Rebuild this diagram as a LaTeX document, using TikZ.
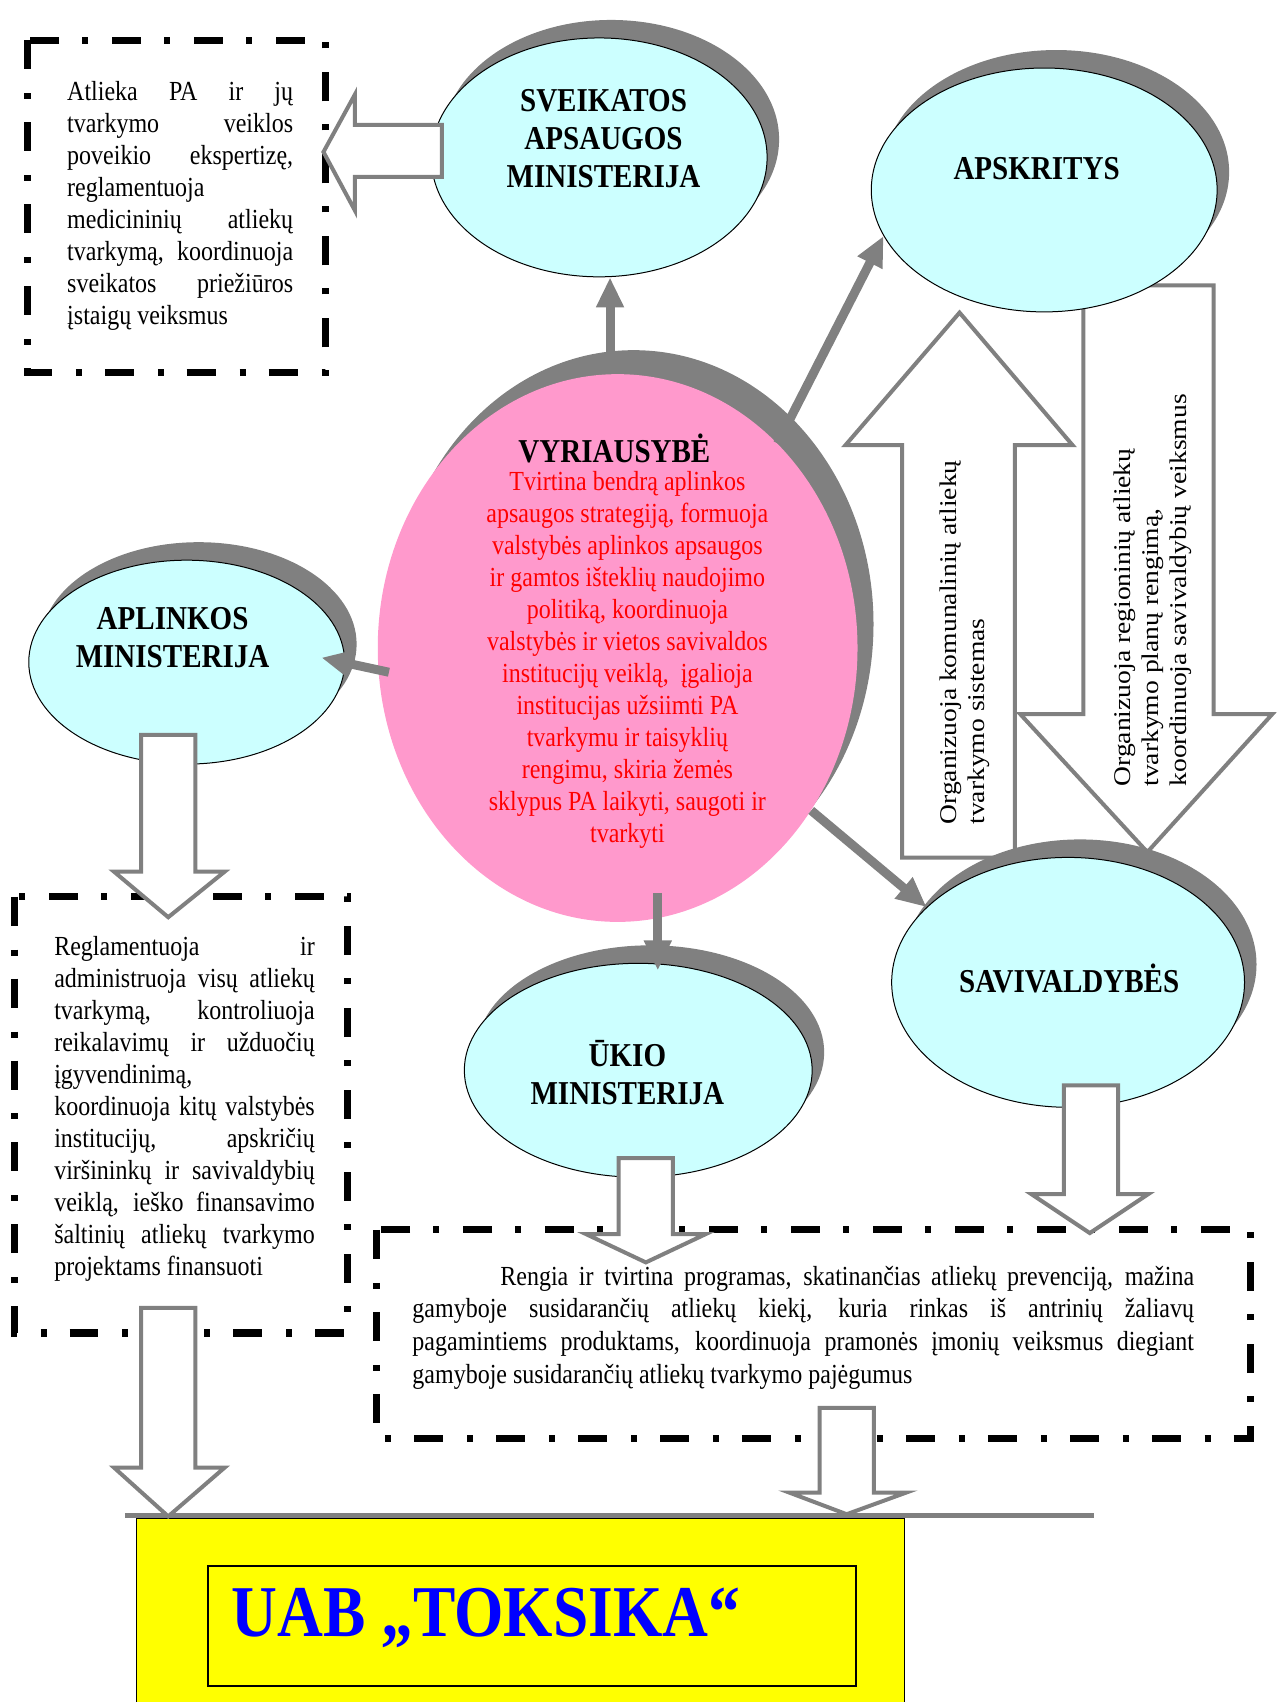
\documentclass[tikz,border=0pt]{standalone}
\usepackage{fontspec}
\setmainfont{Liberation Serif}
\newfontfamily\tallfont[FakeStretch=0.87]{Liberation Serif}
\newfontfamily\widefont[FakeStretch=1.15]{Liberation Serif}
\usepackage{xcolor}
\usetikzlibrary{shapes.geometric,arrows.meta,shadows,calc}
\definecolor{lightcyan}{HTML}{CCFFFF}
\definecolor{govpink}{HTML}{FF99CC}
\definecolor{shadegray}{HTML}{808080}
\definecolor{boxyellow}{HTML}{FFFF00}
\definecolor{textblue}{HTML}{0000FF}
\tikzset{
    minis/.style={ellipse, draw=black, line width=0.5pt, fill=lightcyan, inner sep=0pt,
        drop shadow={shadow xshift=6pt, shadow yshift=9pt, draw=none, fill=shadegray, opacity=1}},
    govnode/.style={ellipse, draw=none, fill=govpink, inner sep=0pt,
        drop shadow={shadow xshift=8pt, shadow yshift=12pt, draw=none, fill=shadegray, opacity=1}},
    title/.style={font=\tallfont\bfseries\fontsize{16.7}{19}\selectfont, align=center, inner sep=0pt},
    body/.style={font=\tallfont\fontsize{13.8}{16}\selectfont, align=justify, inner sep=0pt},
    side/.style={font=\widefont\fontsize{12}{14.2}\selectfont, align=left, inner sep=0pt, rotate=90, anchor=west},
    conn/.style={draw=shadegray, line width=4.5pt, -{Triangle[length=15pt,width=13pt]}},
    hollow/.style={draw=shadegray, line width=2pt, fill=white, line join=miter},
    dashbox/.style={draw=black, line width=3.6pt, dash pattern=on 14.5pt off 12pt on 3pt off 11.5pt}}

\begin{document}
\begin{tikzpicture}[x=0.543pt, y=-0.543pt]
\useasboundingbox (0,0) rectangle (1176,1568);

% big arrows between APSKRITYS and SAVIVALDYBES
\draw[hollow] (831,790) -- (831,410) -- (779,410) -- (884,288) -- (988,410) -- (935,410) -- (935,790) -- cycle;
\draw[hollow] (998,263) -- (1118,263) -- (1118,658) -- (1172,658) -- (1057,785) -- (940,658) -- (998,658) -- cycle;
\node[side] (komtxt) at (889,760) {Organizuoja komunalinių atliekų\\tvarkymo sistemas};
\node[side] (regtxt) at (1062,725) {Organizuoja regioninių atliekų\\tvarkymo planų rengimą,\\koordinuoja savivaldybių veiksmus};

\node[minis, minimum width=168pt, minimum height=119.5pt] (sveik) at (552,145) {};
\node[minis, minimum width=173pt, minimum height=122pt] (apskr) at (962,175) {};
\node[govnode, minimum width=240pt, minimum height=274pt] (gov) at (569,597) {};
\node[minis, minimum width=158pt, minimum height=102pt] (aplink) at (172,610) {};
\node[minis, minimum width=174pt, minimum height=107pt] (ukio) at (588,986) {};
\node[minis, minimum width=176.5pt, minimum height=125pt] (sav) at (984,905) {};

\node[title] (sveiktxt) at (556,128) {SVEIKATOS\\APSAUGOS\\MINISTERIJA};
\node[title] (apskrtxt) at (955,155) {APSKRITYS};
\node[title] (aplinktxt) at (159,587) {APLINKOS\\MINISTERIJA};
\node[title] (ukiotxt) at (578,988) {ŪKIO\\MINISTERIJA};
\node[title] (savtxt) at (985,901) {SAVIVALDYBĖS};
\node[title] (govtxt) at (566,413) {VYRIAUSYBĖ};
\node[body, align=center, text=red] (govbody) at (578,608) {Tvirtina bendrą aplinkos\\apsaugos strategiją, formuoja\\valstybės aplinkos apsaugos\\ir gamtos išteklių naudojimo\\politiką, koordinuoja\\valstybės ir vietos savivaldos\\institucijų veiklą, \ įgalioja\\institucijas užsiimti PA\\tvarkymu ir taisyklių\\rengimu, skiria žemės\\sklypus PA laikyti, saugoti ir\\tvarkyti};

\draw[conn] ($(gov.north)+(-7,0)$) -- ($(gov.north |- sveik.south)+(-7,0)$);
\draw[conn] (gov.52) -- (apskr.196);
\draw[conn] ($(gov.185)+(10,3)$) -- ($(aplink.4)+(-21,6)$);
\draw[conn] ($(gov.south)+(37,-27)$) -- ($(ukio.north)+(18,7)$);
\draw[conn] (gov.-40) -- (sav.152);

\draw[dashbox] (25,37) rectangle (300,343);
\node[body, text width=113pt] (sveikbox) at (166,190) {Atlieka PA ir jų\linebreak tvarkymo veiklos\linebreak poveikio ekspertizę,\linebreak reglamentuoja\newline medicininių atliekų\linebreak tvarkymą, koordinuoja\linebreak sveikatos priežiūros\linebreak įstaigų veiksmus};

\draw[dashbox] (13,826) rectangle (320,1228);
\node[body, text width=130.3pt] (aplinkbox) at (170,1021.5) {Reglamentuoja ir\linebreak administruoja visų atliekų\linebreak tvarkymą, kontroliuoja\linebreak reikalavimų ir užduočių\linebreak įgyvendinimą,\newline koordinuoja kitų valstybės\linebreak institucijų, apskričių\linebreak viršininkų ir savivaldybių\linebreak veiklą, ieško finansavimo\linebreak šaltinių atliekų tvarkymo\linebreak projektams finansuoti};

\draw[dashbox] (347,1133) rectangle (1152,1325);
\node[body, text width=391pt, font=\tallfont\fontsize{13.8}{16.3}\selectfont] (ukiobox) at (740,1223) {\hspace*{44pt}Rengia ir tvirtina programas, skatinančias atliekų prevenciją, mažina\linebreak gamyboje susidarančių atliekų kiekį, kuria rinkas iš antrinių žaliavų\linebreak pagamintiems produktams, koordinuoja pramonės įmonių veiksmus diegiant\linebreak gamyboje susidarančių atliekų tvarkymo pajėgumus};

% hollow arrows
\draw[hollow] (407,115) -- (327,115) -- (327,87) -- (298,140) -- (327,194) -- (327,163) -- (407,163) -- cycle;
\draw[hollow] (130,677) -- (180,677) -- (180,803) -- (207,803) -- (155,845) -- (105,803) -- (130,803) -- cycle;
\draw[hollow] (570,1067) -- (620,1067) -- (620,1137) -- (650,1137) -- (595,1163) -- (540,1137) -- (570,1137) -- cycle;
\draw[hollow] (980,1000) -- (1030,1000) -- (1030,1100) -- (1058,1100) -- (1004,1136) -- (950,1100) -- (980,1100) -- cycle;

\draw[fill=boxyellow, draw=black, line width=0.6pt] (126,1399) rectangle (833,1580);
\draw[draw=shadegray, line width=2.7pt] (115,1396) -- (1008,1396);
\draw[line width=1pt] (192,1443) rectangle (789,1553);
\node[anchor=base west, inner sep=0pt, text=textblue, font=\tallfont\bfseries\fontsize{36.5}{40}\selectfont] (toksika) at (213,1508) {UAB „TOKSIKA“};

\draw[hollow] (130,1205) -- (180,1205) -- (180,1352) -- (207,1352) -- (155,1397) -- (105,1352) -- (130,1352) -- cycle;
\draw[hollow] (755,1297) -- (805,1297) -- (805,1375) -- (835,1375) -- (780,1395) -- (727,1375) -- (755,1375) -- cycle;
\end{tikzpicture}
\end{document}
